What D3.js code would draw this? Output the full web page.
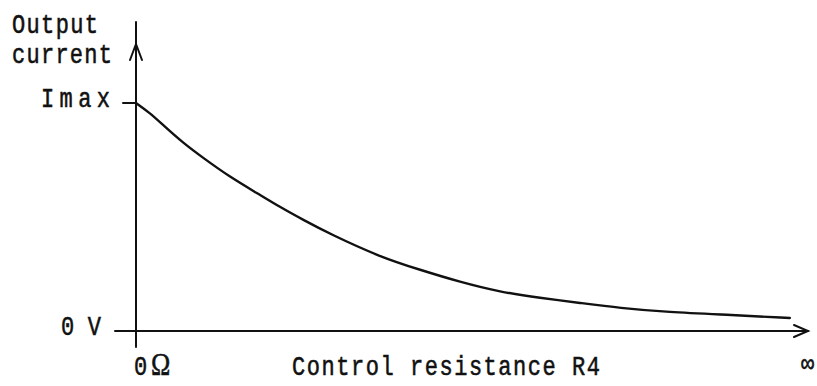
<!DOCTYPE html>
<html>
<head>
<meta charset="utf-8">
<script src="https://cdn.jsdelivr.net/npm/d3@7"></script>
<style>
  html, body { margin: 0; padding: 0; background: #fff; }
  svg { display: block; }
  text { font-family: "Liberation Mono", "DejaVu Sans Mono", monospace; fill: #111; }
</style>
</head>
<body>
<svg id="chart" width="817" height="386"></svg>
<script>
// Control resistance R4, as a percentage of the drawn axis length (0 Ω at the origin)
const resistance = [0, 2.1, 4.0, 7.0, 10.0, 14.0, 18.0, 21.4, 24.9, 28.9, 36.3, 42.3, 48.2, 54.2, 60.1, 66.1, 72.0, 79.0, 88.8, 97.3];
// Output current as a fraction of Imax
const current = [1.0, 0.956, 0.904, 0.825, 0.759, 0.675, 0.605, 0.544, 0.487, 0.425, 0.325, 0.268, 0.215, 0.171, 0.145, 0.123, 0.101, 0.083, 0.070, 0.057];
// Labels on the current axis
const yTickValues = [0, 1];
const yTickLabels = ["0 V", "Imax"];

const svg = d3.select("#chart");
const ink = "#111";

const x = d3.scaleLinear().domain([0, 100]).range([136, 808]);
const y = d3.scaleLinear().domain([0, 1]).range([331, 103]);

// axes
const g = svg.append("g").attr("stroke", ink).attr("fill", "none")
  .attr("stroke-width", 2).attr("stroke-linecap", "round");

// vertical axis with arrowhead
g.append("line").attr("x1", x(0)).attr("x2", x(0)).attr("y1", 22).attr("y2", 347);
g.append("path").attr("d", `M${x(0) - 6},60 L${x(0)},44 L${x(0) + 6},60`);

// horizontal axis with arrowhead
g.append("line").attr("x1", 115).attr("x2", x(100)).attr("y1", y(0)).attr("y2", y(0));
g.append("path").attr("d", `M${x(100) - 14},${y(0) - 6} L${x(100)},${y(0)} L${x(100) - 14},${y(0) + 6}`);

// Imax tick
g.append("line").attr("x1", 123).attr("x2", x(0)).attr("y1", y(1)).attr("y2", y(1));

// the output-current curve
const line = d3.line()
  .x((d, i) => x(resistance[i]))
  .y(d => y(d))
  .curve(d3.curveBasis);
svg.append("path")
  .datum(current)
  .attr("d", line)
  .attr("fill", "none")
  .attr("stroke", ink)
  .attr("stroke-width", 2.4)
  .attr("stroke-linecap", "round");

// typewriter-style labels: tall, narrow glyphs spread to a fixed width
function label(txt, tx, ty, len, opts = {}) {
  const t = svg.append("text")
    .attr("transform", `translate(${tx},${ty}) scale(1,1.22)`)
    .attr("font-size", opts.size || 22)
    .attr("stroke", ink).attr("stroke-width", 0.45)
    .text(txt);
  if (opts.family) t.style("font-family", opts.family);
  if (len) t.attr("textLength", len).attr("lengthAdjust", "spacing");
}
label("Output", 12, 33, 86);
label("current", 12, 63, 100);
label(yTickLabels[1], 41, y(yTickValues[1]) + 4, 69);
label(yTickLabels[0], 61, y(yTickValues[0]) + 4, 40);
label("0", 134, 375);
label("Ω", 151, 375, null, { size: 26, family: "Liberation Serif" });
label("Control resistance R4", 292, 375, 308);
label("∞", 801, 372, null, { size: 22 });
</script>
</body>
</html>
